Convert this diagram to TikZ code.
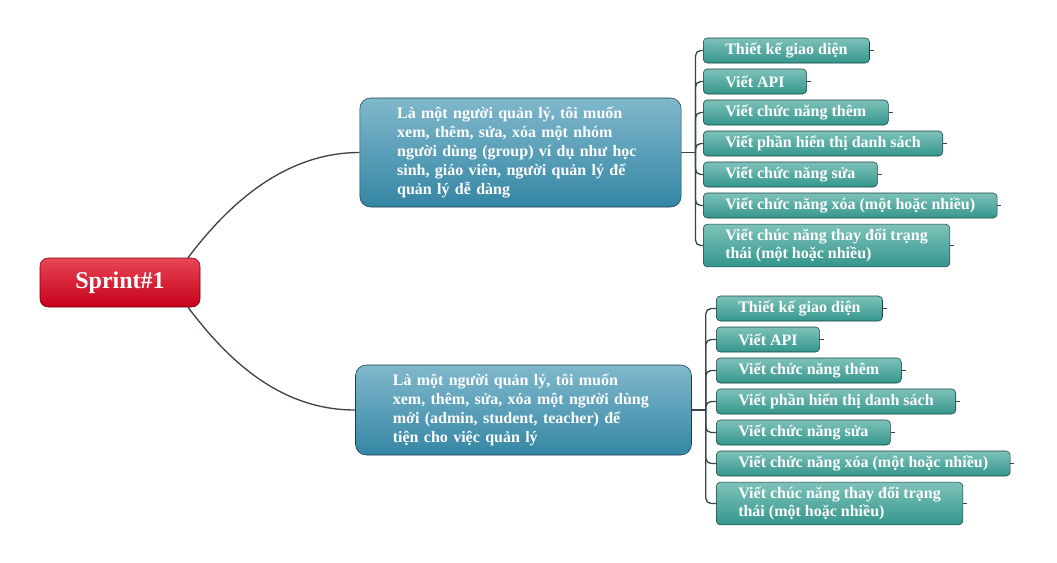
\documentclass[tikz,border=0pt]{standalone}
\usepackage{fontspec}
\setmainfont{Liberation Serif}
\definecolor{RootTop}{RGB}{232,70,84}
\definecolor{RootBot}{RGB}{198,0,26}
\definecolor{StoryTop}{RGB}{128,184,204}
\definecolor{StoryBot}{RGB}{52,134,164}
\definecolor{TaskTop}{RGB}{126,194,186}
\definecolor{TaskBot}{RGB}{52,150,140}
\definecolor{LinkGray}{RGB}{58,68,76}

\begin{document}
\begin{tikzpicture}[x=0.75pt, y=-0.75pt,
        rootbox/.style={rectangle, rounded corners=6pt, draw=RootBot!60!black, top color=RootTop, bottom color=RootBot, text=white, font=\fontsize{18}{21}\selectfont\bfseries, minimum width=120pt, minimum height=36.75pt},
        storybox/.style={rectangle, rounded corners=8pt, draw=StoryBot!45!black, top color=StoryTop, bottom color=StoryBot, text=white, font=\fontsize{12}{14.25}\selectfont\bfseries, align=left, inner xsep=28pt},
        taskbox/.style={rectangle, rounded corners=3pt, draw=TaskBot!45!black, top color=TaskTop, bottom color=TaskBot, text=white, font=\fontsize{12}{13.5}\selectfont\bfseries, inner xsep=16.5pt, inner ysep=2pt, minimum height=18.75pt, anchor=west},
        link/.style={LinkGray, line width=1pt}
    ]
        \useasboundingbox (0,0) rectangle (1057,562);
        % Root and user stories
        \node[rootbox] (root) at (120,282.5) {Sprint\#1};
        \node[storybox, text width=185pt, minimum height=81.75pt] (m1) at (520.5,152.5)
            {Là một người quản lý, tôi muốn\\xem, thêm, sửa, xóa một nhóm\\người dùng (group) ví dụ như học\\sinh, giáo viên, người quản lý để\\quản lý dễ dàng};
        \node[storybox, text width=196pt, minimum height=67.5pt] (m2) at (523.5,410)
            {Là một người quản lý, tôi muốn\\xem, thêm, sửa, xóa một người dùng\\mới (admin, student, teacher) để\\tiện cho việc quản lý};
        \draw[link] (root.20) .. controls +(45,-60) and +(-70,0) .. (m1.west);
        \draw[link] (root.-20) .. controls +(45,60) and +(-70,0) .. (m2.west);
        % Tasks of each story
        \foreach \g/\lx/\ly in {a/703/50.5, b/716/308.5} {
            \foreach \t [count=\i] in {Thiết kế giao diện, Viết API, Viết chức năng thêm, Viết phần hiển thị danh sách, Viết chức năng sửa, Viết chức năng xóa (một hoặc nhiều)} {
                \node[taskbox] (\g\i) at (\lx, \ly+31*\i-31) {\t};
            }
            \node[taskbox, align=left, minimum height=32pt] (\g7) at (\lx, \ly+195) {Viết chúc năng thay đổi trạng\\thái (một hoặc nhiều)};
        }
        % Brackets to the tasks
        \foreach \g/\m in {a/m1, b/m2} {
            \path (\m.east) ++(14,0) coordinate (j\g);
            \draw[link] (\m.east) -- (j\g);
            \foreach \i in {1,...,7} {
                \draw[link, rounded corners=4pt] (j\g) |- (\g\i.west);
                \draw[link] (\g\i.east) -- ++(4,0);
            }
        }
    \end{tikzpicture}
\end{document}
